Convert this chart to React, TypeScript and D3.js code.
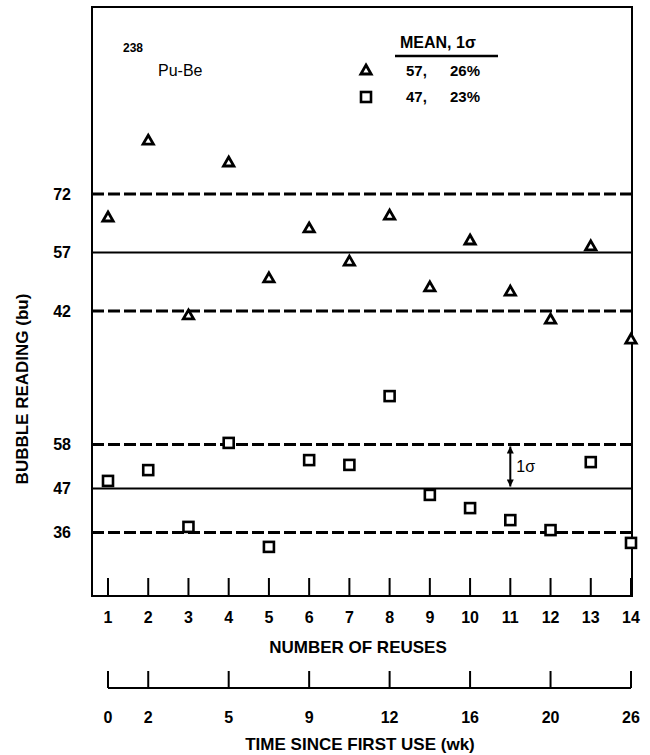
import React from "react";
import * as d3 from "d3";

const reuses = [1, 2, 3, 4, 5, 6, 7, 8, 9, 10, 11, 12, 13, 14];
const triangleValues = [66.1, 85.8, 41.0, 80.2, 50.5, 63.3, 54.8, 66.6, 48.2, 60.2, 47.1, 39.9, 58.7, 34.8];
const squareValues = [48.9, 51.6, 37.4, 58.4, 32.4, 54.1, 52.9, 70.1, 45.4, 42.1, 39.1, 36.6, 53.6, 33.4];
const triangleLevels = [72, 57, 42];
const squareLevels = [58, 47, 36];
const triangleStats = ["57,", "26%"];
const squareStats = ["47,", "23%"];
const timeTickReuse = [1, 2, 4, 6, 8, 10, 12, 14];
const timeTickLabels = ["0", "2", "5", "9", "12", "16", "20", "26"];

const FONT = "'Liberation Sans', Arial, Helvetica, sans-serif";

export default function App() {
  const W = 650, H = 755;
  const frame = { left: 92, right: 632, top: 7, bottom: 596 };
  const x = d3.scaleLinear().domain([1, 14]).range([108, 631]);
  const yTop = d3.scaleLinear().domain([42, 72]).range([311, 194]);
  const yBot = d3.scaleLinear().domain([36, 58]).range([532.5, 444.5]);
  const tri = d3.symbol().type(d3.symbolTriangle).size(46)();
  const axis2Y = 688;

  const levelLine = (y: number, i: number, key: string) => (
    <line key={key} x1={frame.left} x2={frame.right} y1={y} y2={y}
      stroke="#000" strokeWidth={i === 1 ? 2 : 3}
      strokeDasharray={i === 1 ? undefined : "12 4"} />
  );

  return (
    <svg width={W} height={H} style={{ position: "absolute", left: 0, top: 0, background: "#fff" }}
      fontFamily={FONT} fontWeight="bold">
      <rect x={0} y={0} width={W} height={H} fill="#fff" />
      {/* frame */}
      <rect x={frame.left} y={frame.top} width={frame.right - frame.left} height={frame.bottom - frame.top}
        fill="none" stroke="#000" strokeWidth={2} />

      {/* level lines */}
      {triangleLevels.map((v, i) => levelLine(yTop(v), i, "t" + v))}
      {squareLevels.map((v, i) => levelLine(yBot(v), i, "s" + v))}

      {/* y labels */}
      {triangleLevels.map((v) => (
        <text key={"tl" + v} x={71} y={yTop(v)} dy="0.36em" textAnchor="end" fontSize={16}>{v}</text>
      ))}
      {squareLevels.map((v) => (
        <text key={"sl" + v} x={71} y={yBot(v)} dy="0.36em" textAnchor="end" fontSize={16}>{v}</text>
      ))}
      <text transform={`translate(22,389) rotate(-90)`} textAnchor="middle" dy="0.36em" fontSize={17}>
        BUBBLE READING (bu)
      </text>

      {/* 1 sigma arrow */}
      <defs>
        <marker id="ah" viewBox="0 0 10 10" refX={10} refY={5} markerWidth={9} markerHeight={7}
          orient="auto-start-reverse" markerUnits="userSpaceOnUse">
          <path d="M0,0 L10,5 L0,10 z" fill="#000" />
        </marker>
      </defs>
      <line x1={x(11)} x2={x(11)} y1={yBot(58) + 2} y2={yBot(47) - 2} stroke="#000" strokeWidth={2}
        markerStart="url(#ah)" markerEnd="url(#ah)" />
      <text x={x(11) + 6} y={(yBot(58) + yBot(47)) / 2} dy="0.36em" fontSize={16} fontWeight="normal">1σ</text>

      {/* data: triangles */}
      {reuses.map((r, i) => (
        <path key={"tp" + r} d={tri} transform={`translate(${x(r)},${yTop(triangleValues[i]) + 1})`}
          fill="#fff" stroke="#000" strokeWidth={2.8} strokeLinejoin="miter" />
      ))}
      {/* data: squares */}
      {reuses.map((r, i) => (
        <rect key={"sp" + r} x={x(r) - 5} y={yBot(squareValues[i]) - 5} width={10} height={10}
          fill="#fff" stroke="#000" strokeWidth={2.6} />
      ))}

      {/* annotations */}
      <text x={123} y={52} fontSize={12}>238</text>
      <text x={158} y={76} fontSize={16} fontWeight="normal">Pu-Be</text>

      {/* legend */}
      <text x={400} y={48} fontSize={16}>MEAN, 1σ</text>
      <line x1={395} x2={498} y1={56} y2={56} stroke="#000" strokeWidth={2.5} />
      <path d={tri} transform="translate(366,71)" fill="#fff" stroke="#000" strokeWidth={2.8} />
      <text x={406} y={71} dy="0.36em" fontSize={15}>{triangleStats[0]}</text>
      <text x={450} y={71} dy="0.36em" fontSize={15}>{triangleStats[1]}</text>
      <rect x={361} y={92} width={10} height={10} fill="#fff" stroke="#000" strokeWidth={2.6} />
      <text x={406} y={97} dy="0.36em" fontSize={15}>{squareStats[0]}</text>
      <text x={450} y={97} dy="0.36em" fontSize={15}>{squareStats[1]}</text>

      {/* reuse axis ticks inside frame */}
      {reuses.map((r) => (
        <line key={"rt" + r} x1={x(r)} x2={x(r)} y1={frame.bottom} y2={frame.bottom - 18} stroke="#000" strokeWidth={2} />
      ))}
      {reuses.map((r) => (
        <text key={"rl" + r} x={x(r)} y={617} dy="0.36em" textAnchor="middle" fontSize={16}>{r}</text>
      ))}
      <text x={358} y={647} dy="0.36em" textAnchor="middle" fontSize={17}>NUMBER OF REUSES</text>

      {/* time axis */}
      <line x1={x(1)} x2={x(14)} y1={axis2Y} y2={axis2Y} stroke="#000" strokeWidth={2} />
      {timeTickReuse.map((r) => (
        <line key={"tt" + r} x1={x(r)} x2={x(r)} y1={axis2Y} y2={axis2Y - 17} stroke="#000" strokeWidth={2} />
      ))}
      {timeTickReuse.map((r, i) => (
        <text key={"ttl" + r} x={x(r)} y={717} dy="0.36em" textAnchor="middle" fontSize={16}>{timeTickLabels[i]}</text>
      ))}
      <text x={360} y={744} dy="0.36em" textAnchor="middle" fontSize={17}>TIME SINCE FIRST USE (wk)</text>
    </svg>
  );
}
